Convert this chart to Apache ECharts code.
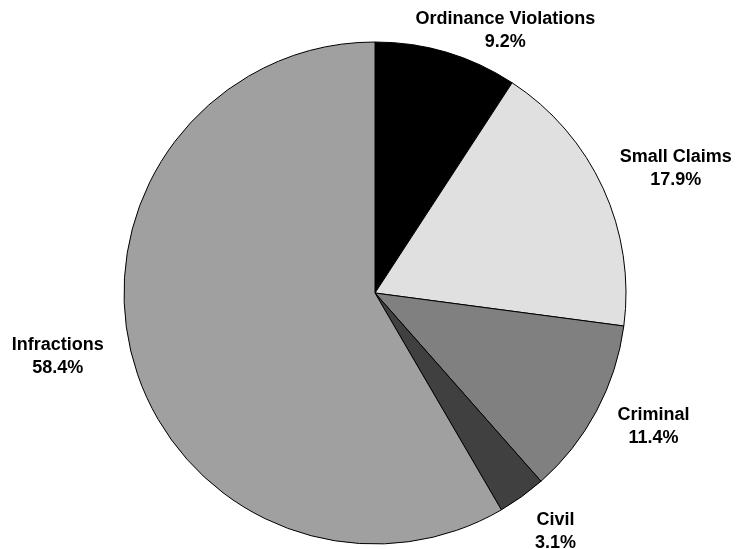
<!DOCTYPE html>
<html>
<head>
<meta charset="utf-8">
<script src="https://cdn.jsdelivr.net/npm/echarts@6/dist/echarts.min.js"></script>
<style>
html,body{margin:0;padding:0;background:#fff;}
#main{width:736px;height:549px;}
</style>
</head>
<body>
<div id="main"></div>
<script>
// 各类案件占比
var names = ['Ordinance Violations', 'Small Claims', 'Criminal', 'Civil', 'Infractions'];
var values = [9.2, 17.9, 11.4, 3.1, 58.4];
var colors = ['#000000', '#e0e0e0', '#808080', '#404040', '#a0a0a0'];
// 标签微调（相对外环中点的偏移）
var labelShift = [[42, 35], [19, 5], [5, -12], [-1, -13], [-18, -17]];

var pieData = [];
var labelData = [];
for (var i = 0; i < names.length; i++) {
    pieData.push({name: names[i], value: values[i], itemStyle: {color: colors[i]}});
    labelData.push({name: names[i], value: values[i]});
}

var myChart = echarts.init(document.getElementById('main'));
myChart.setOption({
    animation: false,
    series: [
        {
            type: 'pie',
            center: [375, 293],
            radius: [0, 251],
            startAngle: 90,
            clockwise: true,
            silent: true,
            itemStyle: {borderColor: '#000', borderWidth: 1},
            label: {show: false},
            labelLine: {show: false},
            data: pieData
        },
        {
            // 透明外环，只用来放标签
            type: 'pie',
            center: [375, 293],
            radius: [251, 363],
            startAngle: 90,
            clockwise: true,
            silent: true,
            itemStyle: {color: 'rgba(0,0,0,0)'},
            label: {
                show: true,
                position: 'inside',
                formatter: function (p) {
                    return p.name + '\n' + p.value.toFixed(1) + '%';
                },
                color: '#000',
                fontFamily: 'Liberation Sans',
                fontWeight: 'bold',
                fontSize: 18,
                lineHeight: 23,
                align: 'center'
            },
            labelLayout: function (params) {
                var s = labelShift[params.dataIndex];
                return {dx: s[0], dy: s[1]};
            },
            labelLine: {show: false},
            data: labelData
        }
    ]
});
</script>
</body>
</html>
